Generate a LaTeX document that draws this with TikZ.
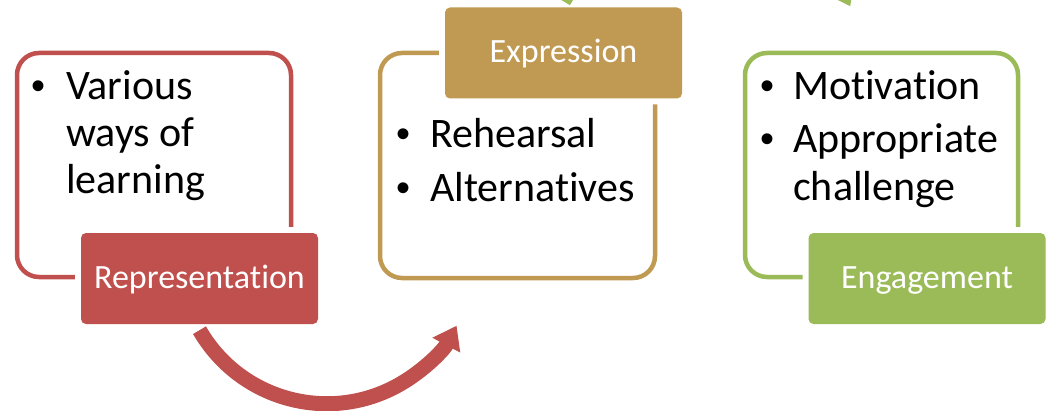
\documentclass[tikz,border=0pt]{standalone}
\usepackage{fontspec}
\setmainfont{Carlito}[RawFeature=-liga]
\newfontfamily\bulfont{Liberation Sans}
\usetikzlibrary{arrows.meta}
\definecolor{cred}{HTML}{C0504D}
\definecolor{cgold}{HTML}{C09A52}
\definecolor{cgreen}{HTML}{9BBB59}
\begin{document}
\begin{tikzpicture}[x=1pt,y=1pt,
  outline/.style={draw=#1, line width=4.5pt, rounded corners=22pt, fill=white, inner sep=0pt},
  tag/.style={fill=#1, rounded corners=5pt, text=white, font=\fontsize{34}{40}\selectfont,
    preaction={draw=white, line width=12pt}, minimum width=237pt, minimum height=91pt,
    inner sep=0pt, text height=25pt, text depth=6pt},
  body/.style={anchor=base west, font=\fontsize{42}{47}\selectfont, inner sep=0pt},
  bul/.style={anchor=base, font=\bulfont\fontsize{40}{47}\selectfont, inner sep=0pt},
  bigarrow/.style={line width=15pt, draw=#1, -{Triangle[width=30pt,length=22pt]}}]
\useasboundingbox (0,0) rectangle (1048,410);
\begin{scope}
\clip (0,0) rectangle (1048,410);
% outline boxes
\node[outline=cred, minimum width=274pt, minimum height=224pt] (repbox) at (154,245) {};
\node[outline=cgold, minimum width=275pt, minimum height=225pt] (exprbox) at (517.5,244.5) {};
\node[outline=cgreen, minimum width=273pt, minimum height=224pt] (engbox) at (881.5,245) {};
% labels
\node[tag=cred] (rep) at (199.5,131.5) {Representation};
\node[tag=cgold] (expr) at (563.5,357) {Expression};
\node[tag=cgreen] (eng) at (927,131.5) {Engagement};
% left text
\node[bul] (b1) at (39,310) {•};
\node[body] (t1) at (66,310) {Various};
\node[body] (t2) at (66,263) {ways of};
\node[body] (t3) at (66,216) {learning};
% middle text
\node[bul] (b2) at (403,262) {•};
\node[body] (t4) at (430,262) {Rehearsal};
\node[bul] (b3) at (403,208) {•};
\node[body] (t5) at (430,208) {Alternatives};
% right text
\node[bul] (b4) at (767,310) {•};
\node[body] (t6) at (793,310) {Motivation};
\node[bul] (b5) at (767,257) {•};
\node[body] (t7) at (793,257) {Appropriate};
\node[body] (t8) at (793,210) {challenge};
% arrows
\draw[bigarrow=cred] ([yshift=-6pt]rep.south) arc[start angle=210, end angle=332, radius=147];
\draw[bigarrow=cgreen] ([yshift=6pt]expr.north) arc[start angle=150, end angle=28, radius=164];
\end{scope}
\end{tikzpicture}
\end{document}
